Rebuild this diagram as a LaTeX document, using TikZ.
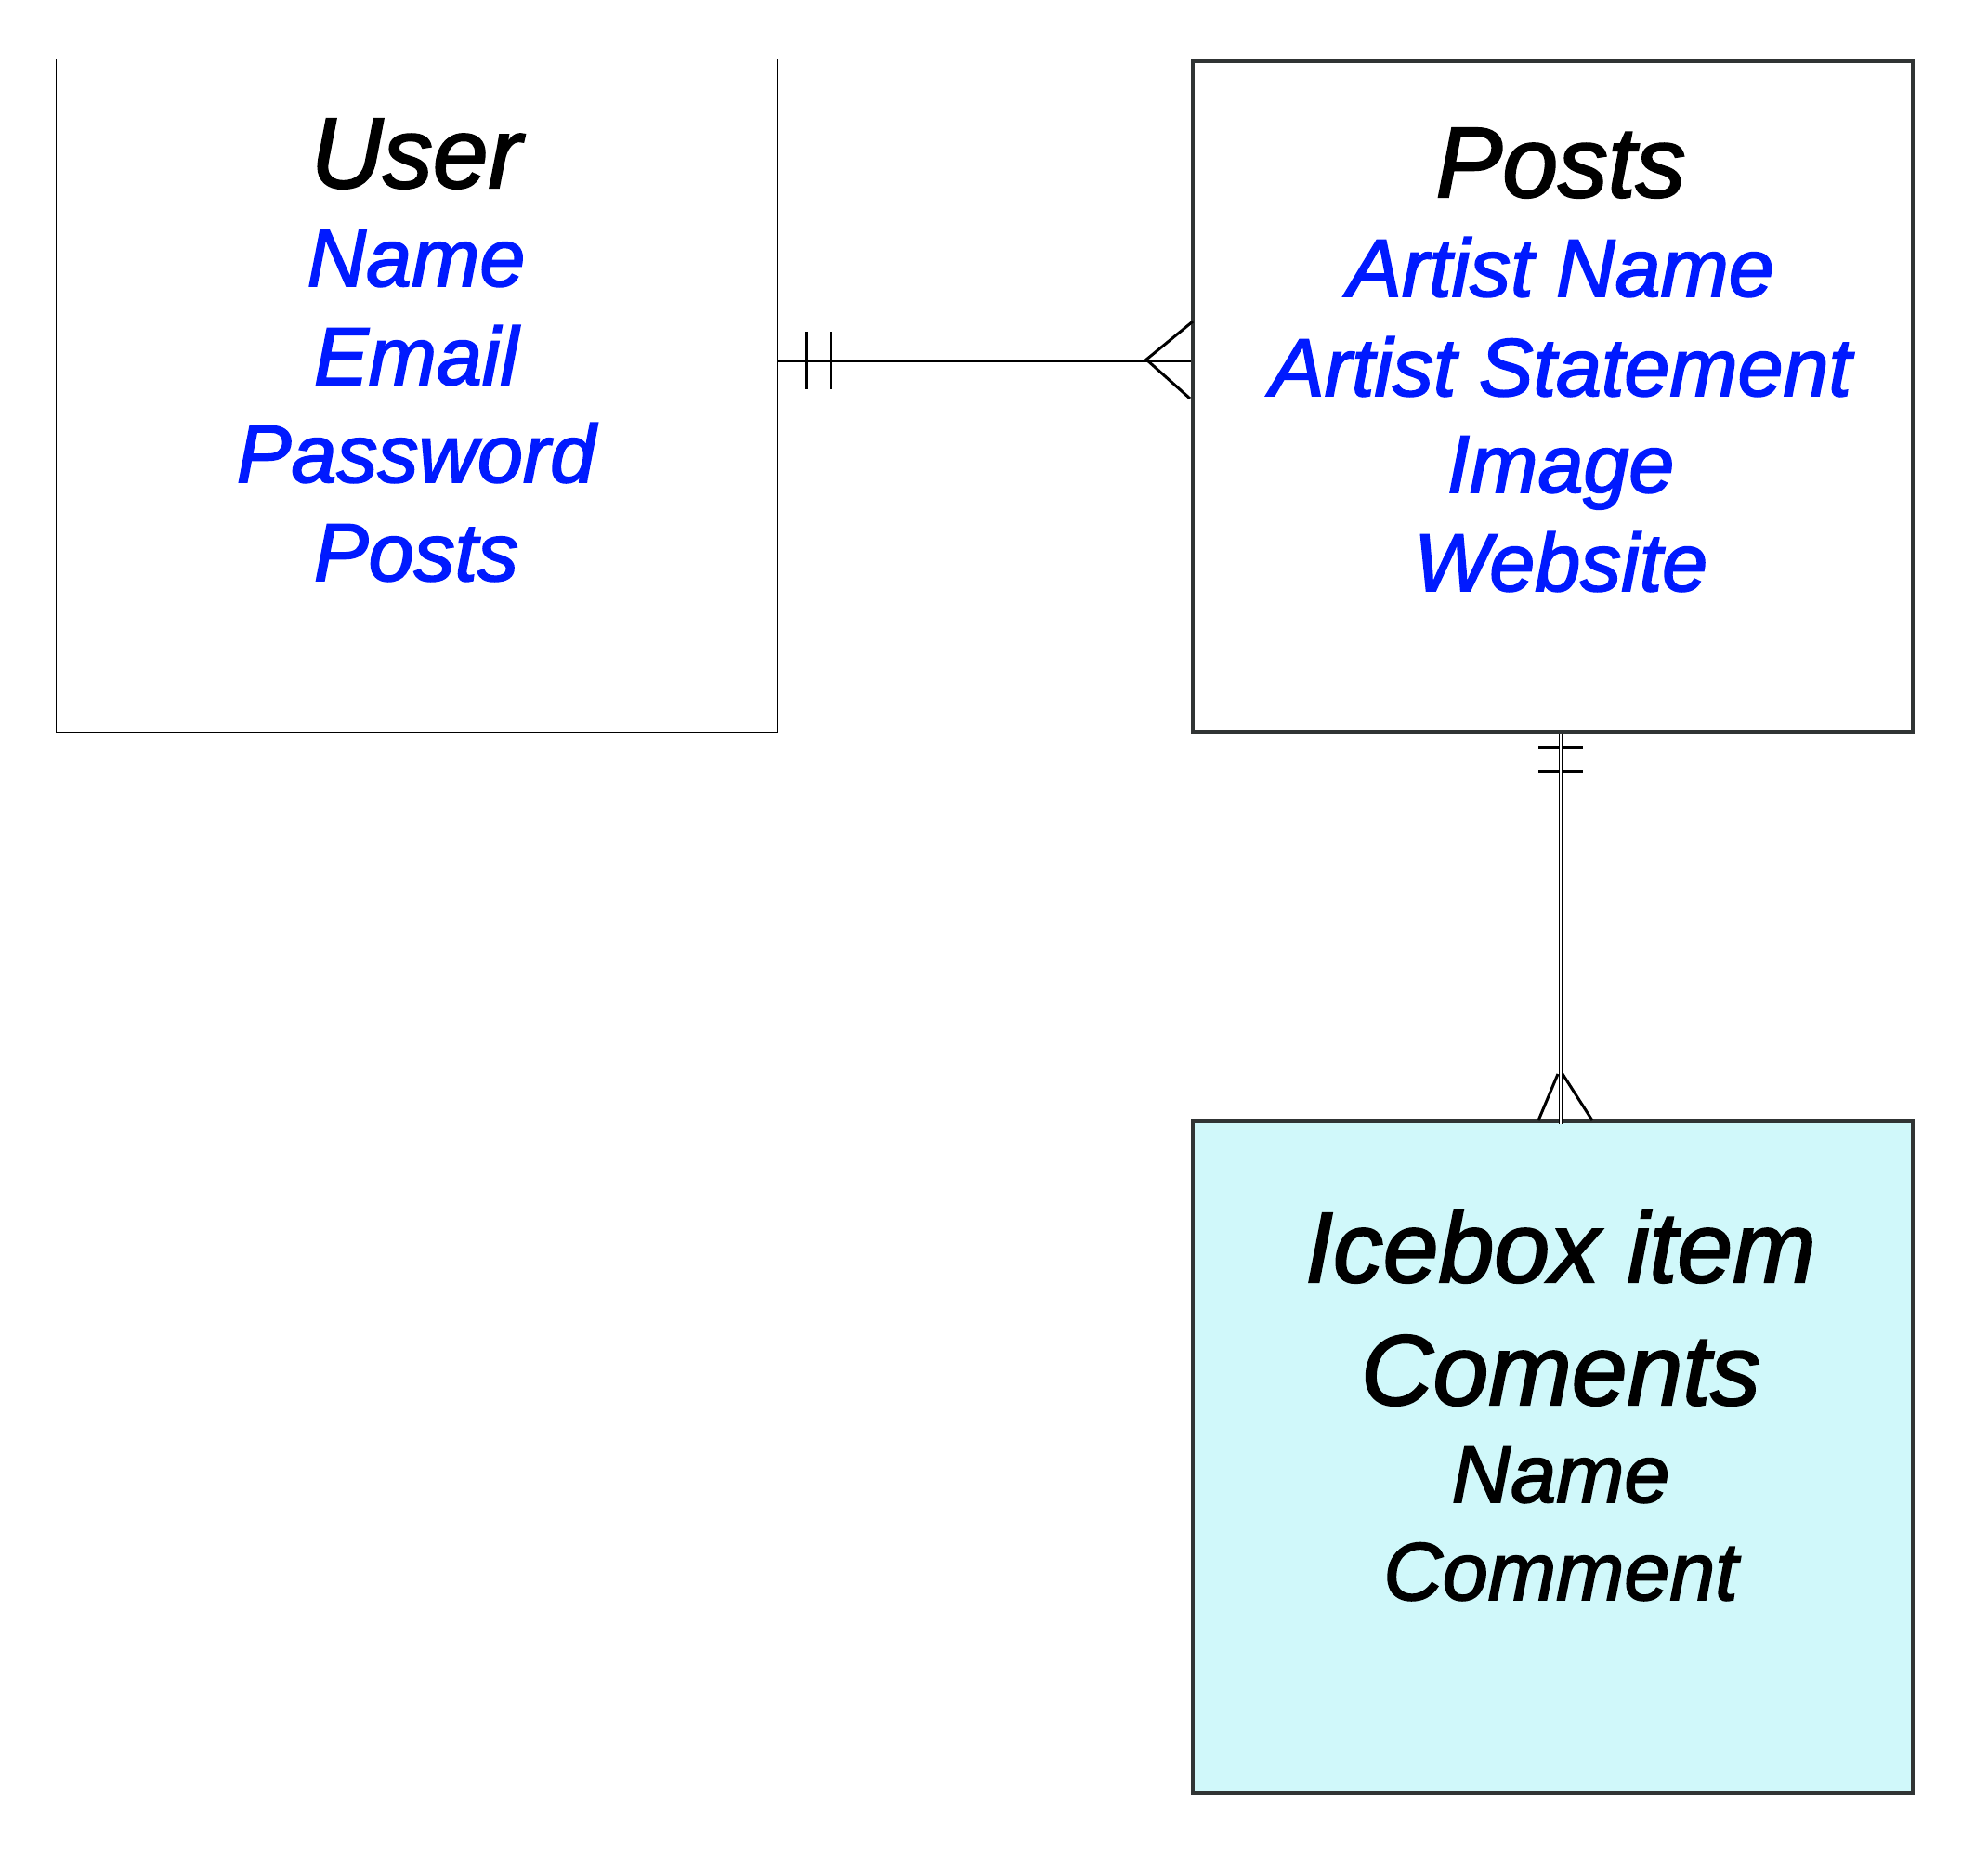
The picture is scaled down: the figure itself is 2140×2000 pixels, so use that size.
\documentclass[tikz,border=0pt]{standalone}
\usepackage{fontspec}
\setmainfont{Liberation Sans}[ItalicFeatures={FakeBold=2}]
\usetikzlibrary{calc}
\begin{document}
\definecolor{attrblue}{RGB}{0,26,255}
\definecolor{icefill}{RGB}{208,248,250}
\definecolor{edgegray}{RGB}{48,52,52}
\begin{tikzpicture}[x=1pt,y=-1pt,
  thinbox/.style={draw=black,line width=1.3pt},
  thickbox/.style={draw=edgegray,line width=3.5pt},
  titletext/.style={anchor=base,inner sep=0pt,font=\fontsize{107.5}{110}\selectfont\itshape},
  attrtext/.style={anchor=base,inner sep=0pt,font=\fontsize{88}{90}\selectfont\itshape,text=attrblue},
  plaintext/.style={anchor=base,inner sep=0pt,font=\fontsize{88}{90}\selectfont\itshape},
  relline/.style={line width=3pt,black},
  tickline/.style={line width=3pt,black},
  dblline/.style={double=white,double distance=1.6pt,line width=1pt,black}]
\useasboundingbox (0,0) rectangle (2140,2000);
\fill[white] (0,0) rectangle (2140,2000);
% boxes
\node[thinbox,minimum width=776pt,minimum height=725pt,inner sep=0pt,anchor=north west] (user) at (60,63) {};
\node[thickbox,minimum width=775pt,minimum height=722pt,inner sep=0pt,anchor=north west] (posts) at (1282,64) {};
\node[thickbox,fill=icefill,minimum width=775pt,minimum height=723pt,inner sep=0pt,anchor=north west] (ice) at (1282,1205) {};
% User texts
\node[titletext] (ut) at (448,202) {User};
\node[attrtext] (u1) at (448,308) {Name};
\node[attrtext] (u2) at (448,414) {Email};
\node[attrtext] (u3) at (448,519) {Password};
\node[attrtext] (u4) at (448,625) {Posts};
% Posts texts
\node[titletext] (pt) at (1680,212) {Posts};
\node[attrtext] (p1) at (1680,319) {Artist Name};
\node[attrtext] (p2) at (1680,426) {Artist Statement};
\node[attrtext] (p3) at (1680,530) {Image};
\node[attrtext] (p4) at (1680,636) {Website};
% Icebox texts
\node[titletext] (it) at (1680,1380) {Icebox item};
\node[titletext] (ic) at (1680,1512) {Coments};
\node[plaintext] (i1) at (1680,1617) {Name};
\node[plaintext] (i2) at (1680,1722) {Comment};
% User -- Posts connector
\coordinate (ua) at (user.east |- 0,388);
\coordinate (pa) at (posts.west |- 0,388);
\draw[relline] (ua) -- (pa);
\draw[tickline] ($(ua)+(31,-31)$) -- ($(ua)+(31,31)$);
\draw[tickline] ($(ua)+(57,-31)$) -- ($(ua)+(57,31)$);
\draw[relline] ($(pa)+(2,-42)$) -- ($(pa)+(-48,-1)$) -- ($(pa)+(-1,41)$);
% Posts -- Icebox connector
\coordinate (pb) at (posts.south -| 1680,0);
\coordinate (ib) at (ice.north -| 1680,0);
\draw[tickline] ($(pb)+(-24,15)$) -- ($(pb)+(24,15)$);
\draw[tickline] ($(pb)+(-24,41)$) -- ($(pb)+(24,41)$);
\draw[relline] ($(ib)+(-24,1)$) -- ($(ib)+(-3,-49)$);
\draw[relline] ($(ib)+(34,1)$) -- ($(ib)+(2,-49)$);
\draw[dblline] (pb) -- ($(ib)+(0,5)$);
\end{tikzpicture}
\end{document}
